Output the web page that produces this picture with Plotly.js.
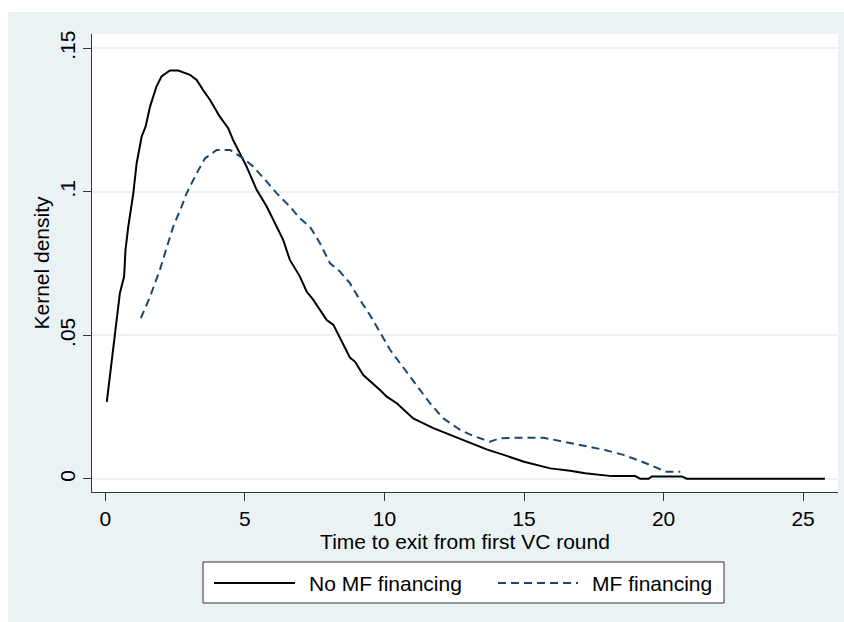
<!DOCTYPE html>
<html>
<head>
<meta charset="utf-8">
<script src="https://cdn.plot.ly/plotly-3.0.1.min.js"></script>
<style>html,body{margin:0;padding:0;background:#fff;}#chart{width:844px;height:622px;}</style>
</head>
<body>
<div id="chart"></div>
<script>
// Series: No MF financing (solid black)
const noMfX = [0.05, 0.34, 0.52, 0.67, 0.72, 0.82, 1.0, 1.12, 1.3, 1.44, 1.6, 1.83, 2.01, 2.31, 2.61, 3.03, 3.27, 3.5, 3.75, 4.1, 4.4, 4.58, 5.06, 5.42, 5.78, 6.37, 6.61, 6.97, 7.21, 7.45, 7.93, 8.17, 8.76, 8.94, 9.24, 9.84, 10.08, 10.44, 11.03, 11.75, 12.35, 12.95, 13.66, 14.3, 15.0, 15.94, 16.65, 17.19, 18.14, 18.98, 19.16, 19.46, 19.58, 20.65, 20.83, 25.78];
const noMfY = [0.0269, 0.050, 0.0648, 0.0705, 0.0798, 0.0879, 0.0995, 0.110, 0.1193, 0.1227, 0.1297, 0.1367, 0.1402, 0.1423, 0.1423, 0.1408, 0.139, 0.1355, 0.132, 0.1262, 0.1222, 0.118, 0.1088, 0.1007, 0.0949, 0.0833, 0.0763, 0.0705, 0.0653, 0.0624, 0.0554, 0.0537, 0.0423, 0.0409, 0.0362, 0.031, 0.0287, 0.0264, 0.0211, 0.0177, 0.0153, 0.013, 0.0103, 0.0083, 0.006, 0.0037, 0.0029, 0.002, 0.001, 0.001, 0.0001, 0.0001, 0.0009, 0.0009, 0.0001, 0.0001];

// Series: MF financing (dashed navy)
const mfX = [1.27, 1.6, 1.95, 2.13, 2.43, 2.73, 2.91, 3.27, 3.57, 3.99, 4.46, 4.94, 5.3, 5.78, 6.14, 6.61, 6.97, 7.33, 7.69, 8.05, 8.41, 8.76, 9.12, 9.48, 9.84, 10.2, 10.56, 10.91, 11.27, 11.63, 12.11, 12.71, 13.18, 13.78, 14.14, 14.74, 15.69, 16.47, 17.19, 17.9, 18.56, 19.16, 19.76, 20.1, 20.6];
const mfY = [0.056, 0.0635, 0.0728, 0.0786, 0.0879, 0.0949, 0.0995, 0.1065, 0.1117, 0.1146, 0.1146, 0.1117, 0.1088, 0.1036, 0.0995, 0.0949, 0.0908, 0.0879, 0.0821, 0.0751, 0.0722, 0.0682, 0.0624, 0.0571, 0.0508, 0.045, 0.0403, 0.0357, 0.031, 0.0264, 0.0211, 0.0171, 0.015, 0.013, 0.0142, 0.0144, 0.0144, 0.013, 0.0115, 0.0101, 0.0084, 0.0063, 0.0037, 0.0025, 0.0025];

// Tick labels
const xTickVals = [0, 5, 10, 15, 20, 25];
const xTickText = ["0", "5", "10", "15", "20", "25"];
const yTickVals = [0, 0.05, 0.1, 0.15];
const yTickText = ["0", ".05", ".1", ".15"];

const seriesNames = ["No MF financing", "MF financing"];
const xTitle = "Time to exit from first VC round";
const yTitle = "Kernel density";

const FONT = "Liberation Sans, Arial, sans-serif";
const BG = "#EAF2F3";
const NAVY = "#1A476F";
const AX = "#333333";
const MF_DASH = "8px,5px";

const traces = [
  {x: noMfX, y: noMfY, type: "scatter", mode: "lines", name: seriesNames[0],
   line: {color: "#000000", width: 2}, showlegend: false, hoverinfo: "skip"},
  {x: mfX, y: mfY, type: "scatter", mode: "lines", name: seriesNames[1],
   line: {color: NAVY, width: 2, dash: MF_DASH}, showlegend: false, hoverinfo: "skip"}
];

// paper-coordinate helpers for layout decorations (margins: l=92, r=6, t=34, b=130)
const PL = 92, PR = 838, PT = 34, PB = 492;
const px = v => (v - PL) / (PR - PL);
const py = v => (PB - v) / (PB - PT);

const legY = py(583);
const shapes = [
  {type: "rect", xref: "paper", yref: "paper", x0: px(8), x1: px(844), y0: py(622), y1: py(12),
   fillcolor: BG, line: {width: 0}, layer: "below"},
  {type: "rect", xref: "paper", yref: "paper", x0: 0, x1: 1, y0: 0, y1: 1,
   fillcolor: "#FFFFFF", line: {width: 0}, layer: "below"},
  {type: "rect", xref: "paper", yref: "paper", x0: px(203), x1: px(724), y0: py(603), y1: py(562),
   fillcolor: "#FFFFFF", line: {color: AX, width: 1}},
  {type: "line", xref: "paper", yref: "paper", x0: px(214), x1: px(295), y0: legY, y1: legY,
   line: {color: "#000000", width: 2}},
  {type: "line", xref: "paper", yref: "paper", x0: px(498), x1: px(578), y0: legY, y1: legY,
   line: {color: NAVY, width: 2, dash: MF_DASH}}
];

const annotations = [
  {xref: "paper", yref: "paper", x: px(307), y: legY, xanchor: "left", yanchor: "middle",
   text: seriesNames[0], showarrow: false, font: {family: FONT, size: 21, color: "#000"}},
  {xref: "paper", yref: "paper", x: px(590), y: legY, xanchor: "left", yanchor: "middle",
   text: seriesNames[1], showarrow: false, font: {family: FONT, size: 21, color: "#000"}}
];

const layout = {
  width: 844, height: 622,
  margin: {l: PL, r: 844 - PR, t: PT, b: 622 - PB, pad: 0},
  paper_bgcolor: "#FFFFFF",
  plot_bgcolor: "rgba(0,0,0,0)",
  font: {family: FONT, size: 21, color: "#000"},
  showlegend: false,
  xaxis: {
    range: [-0.48, 26.25], tickvals: xTickVals, ticktext: xTickText,
    showgrid: false, zeroline: false, showline: true, linecolor: AX, linewidth: 1,
    ticks: "outside", ticklen: 8, tickcolor: AX, tickwidth: 1,
    tickfont: {family: FONT, size: 21, color: "#000"},
    title: {text: xTitle, font: {family: FONT, size: 21, color: "#000"}, standoff: 0},
    automargin: false
  },
  yaxis: {
    range: [-0.00453, 0.1550], tickvals: yTickVals, ticktext: yTickText, tickangle: -90,
    showgrid: true, gridcolor: BG, gridwidth: 2, zeroline: false,
    showline: true, linecolor: AX, linewidth: 1,
    ticks: "outside", ticklen: 8, tickcolor: AX, tickwidth: 1,
    tickfont: {family: FONT, size: 21, color: "#000"},
    title: {text: yTitle, font: {family: FONT, size: 21, color: "#000"}, standoff: 0},
    automargin: false
  },
  shapes: shapes,
  annotations: annotations
};

Plotly.newPlot("chart", traces, layout, {displayModeBar: false, staticPlot: true});
</script>
</body>
</html>
